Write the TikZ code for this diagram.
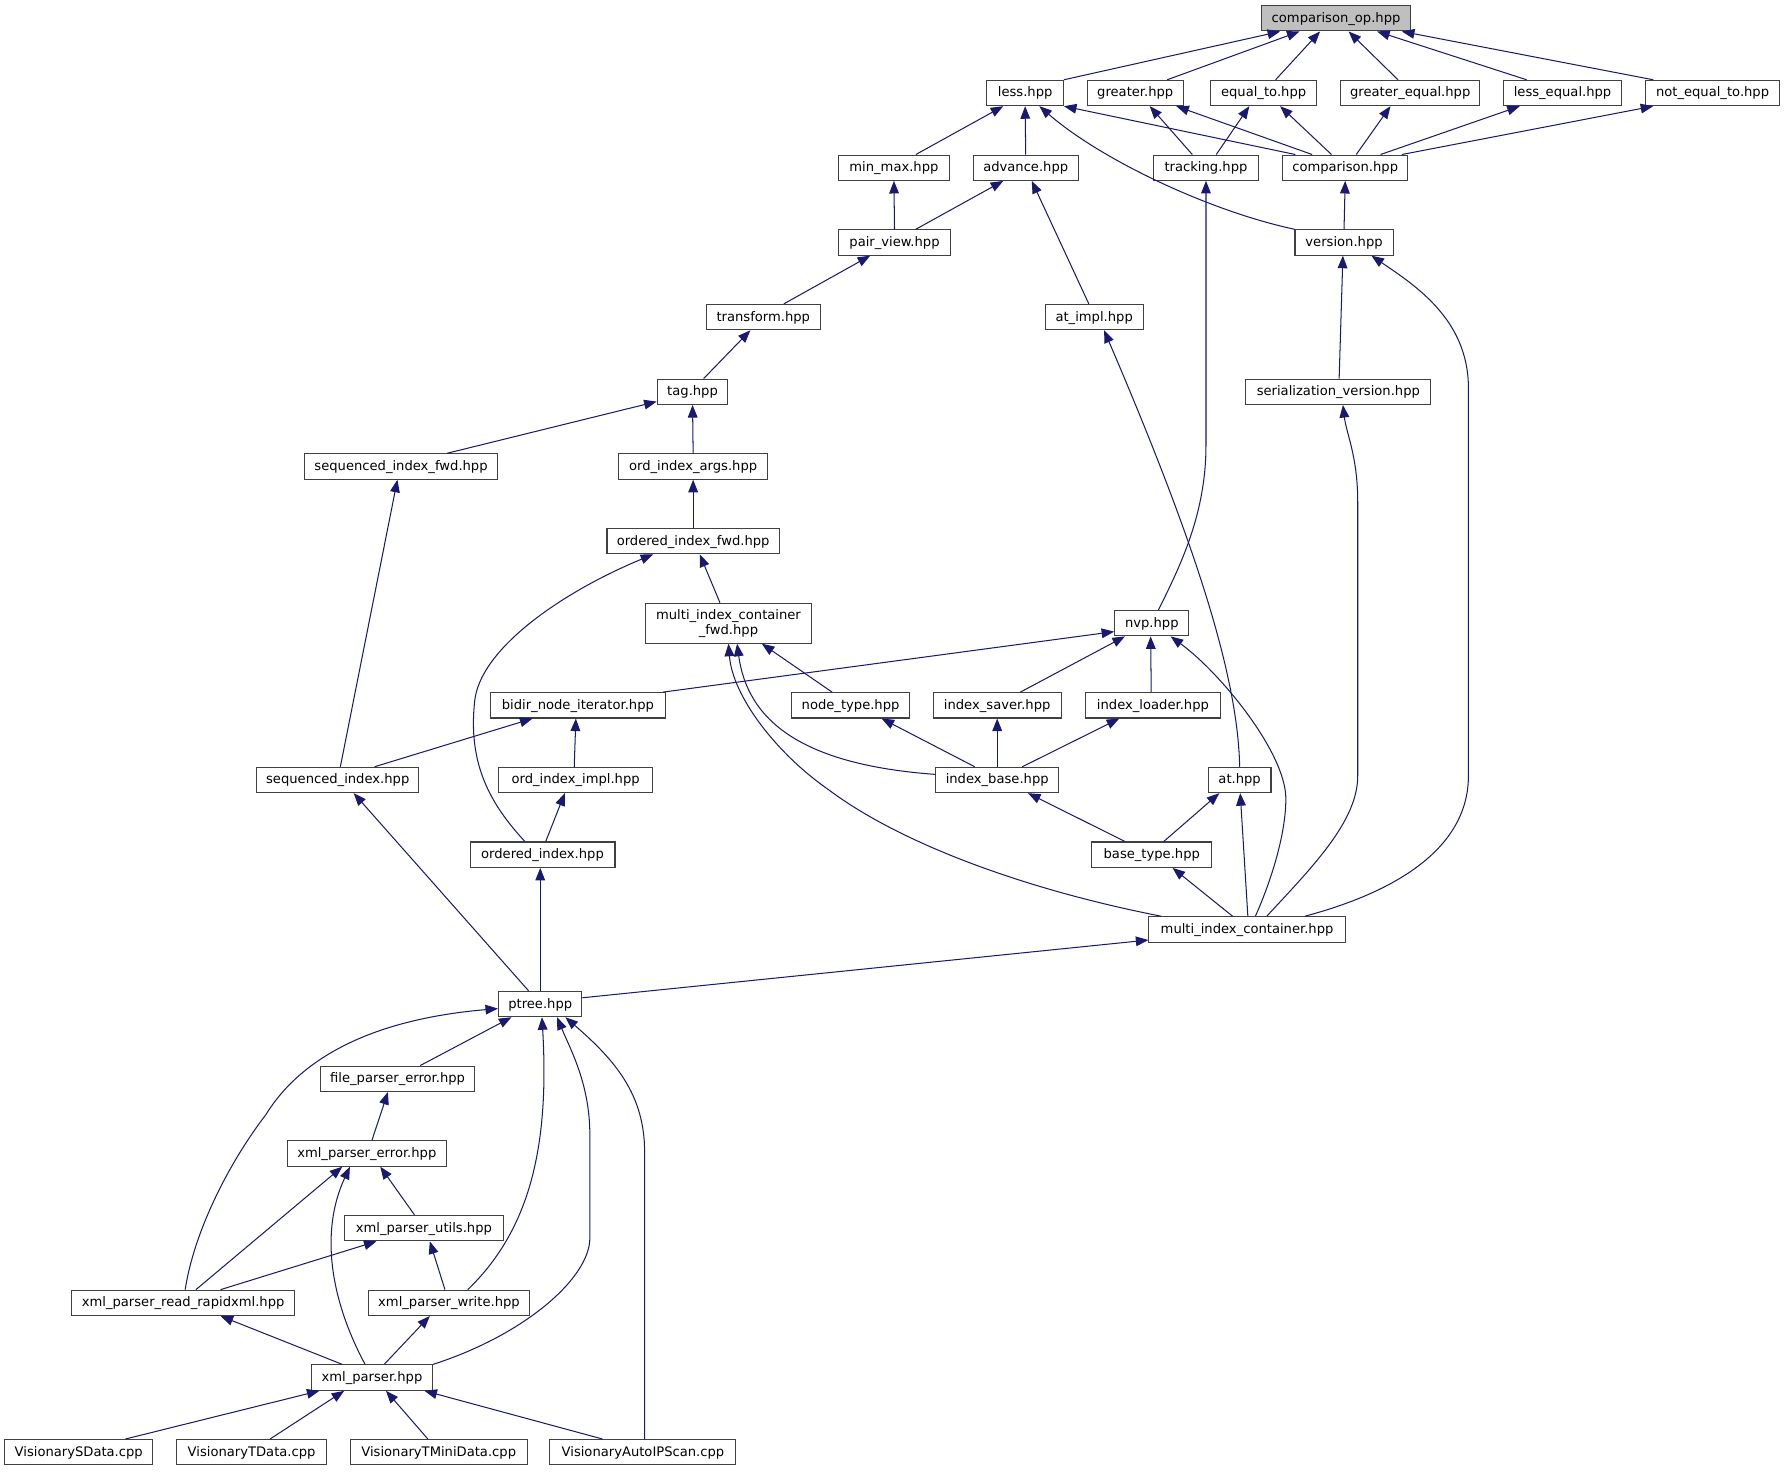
\documentclass[tikz,border=0pt]{standalone}
\usepackage{fontspec}
\setmainfont{DejaVu Sans}
\usetikzlibrary{arrows.meta}
\definecolor{navyc}{HTML}{191970}
\definecolor{boxc}{HTML}{404040}
\definecolor{grayfill}{HTML}{BFBFBF}
\newcommand\nodefont{\fontsize{11.5}{13.2}\selectfont}
\tikzset{
  box/.style={draw=boxc, line width=0.95pt, fill=white, inner sep=1pt, font=\nodefont, text=black, minimum height=22.2pt},
  b/.style={box, text height=9pt, text depth=2pt},
  dep/.style={draw=navyc, line width=0.9pt, -{Triangle[length=11pt,width=8.5pt]}},
}
\begin{document}
\begin{tikzpicture}[x=1pt,y=-1pt]
\useasboundingbox (0,0) rectangle (1568,1289.3);
% row 0
\node[b, minimum width=130pt, fill=grayfill] (cop) at (1171,16.0) {comparison\_op.hpp};
% row 1
\node[b, minimum width=67pt] (less) at (898.5,81.5) {less.hpp};
\node[b, minimum width=84pt] (greater) at (995,81.5) {greater.hpp};
\node[b, minimum width=93pt] (eqto) at (1107.5,81.5) {equal\_to.hpp};
\node[b, minimum width=122pt] (geq) at (1236,81.5) {greater\_equal.hpp};
\node[b, minimum width=103pt] (leq) at (1369.5,81.5) {less\_equal.hpp};
\node[b, minimum width=118pt] (neq) at (1501,81.5) {not\_equal\_to.hpp};
% row 2
\node[b, minimum width=97pt] (minmax) at (783.5,147.0) {min\_max.hpp};
\node[b, minimum width=92pt] (advance) at (899,147.0) {advance.hpp};
\node[b, minimum width=92pt] (tracking) at (1057,147.0) {tracking.hpp};
\node[b, minimum width=110pt] (comparison) at (1179,147.0) {comparison.hpp};
% row 3
\node[b, minimum width=98pt] (pairview) at (784,212.5) {pair\_view.hpp};
\node[b, minimum width=86pt] (version) at (1178,212.5) {version.hpp};
% row 4
\node[b, minimum width=100pt] (transform) at (669,277.9) {transform.hpp};
\node[b, minimum width=86pt] (atimpl) at (959,277.9) {at\_impl.hpp};
% row 5
\node[b, minimum width=62pt] (tag) at (607,343.4) {tag.hpp};
\node[b, minimum width=162pt] (serv) at (1173,343.4) {serialization\_version.hpp};
% row 6
\node[b, minimum width=169pt] (sif) at (351.5,408.9) {sequenced\_index\_fwd.hpp};
\node[b, minimum width=131pt] (oia) at (607.5,408.9) {ord\_index\_args.hpp};
% row 7
\node[b, minimum width=151pt] (oif) at (607.5,474.3) {ordered\_index\_fwd.hpp};
% row 8
\node[box, minimum width=145pt, minimum height=35pt, align=center] (micf) at (638.5,546.2) {multi\_index\_container\\\_fwd.hpp};
\node[b, minimum width=65pt] (nvp) at (1009.5,546.2) {nvp.hpp};
% row 9
\node[b, minimum width=153pt] (bidir) at (506.5,618.2) {bidir\_node\_iterator.hpp};
\node[b, minimum width=103pt] (ntype) at (745.5,618.2) {node\_type.hpp};
\node[b, minimum width=112pt] (isaver) at (874,618.2) {index\_saver.hpp};
\node[b, minimum width=119pt] (iloader) at (1010.5,618.2) {index\_loader.hpp};
% row 10
\node[b, minimum width=142pt] (si) at (296,683.6) {sequenced\_index.hpp};
\node[b, minimum width=135pt] (oii) at (504.5,683.6) {ord\_index\_impl.hpp};
\node[b, minimum width=108pt] (ibase) at (874,683.6) {index\_base.hpp};
\node[b, minimum width=55pt] (at) at (1086.5,683.6) {at.hpp};
% row 11
\node[b, minimum width=127pt] (oi) at (475.5,749.1) {ordered\_index.hpp};
\node[b, minimum width=105pt] (btype) at (1009.5,749.1) {base\_type.hpp};
% row 12
\node[b, minimum width=172pt] (mic) at (1093,814.6) {multi\_index\_container.hpp};
% row 13
\node[b, minimum width=73pt] (ptree) at (473.5,880.0) {ptree.hpp};
% row 14
\node[b, minimum width=135pt] (fpe) at (348.5,945.5) {file\_parser\_error.hpp};
% row 15
\node[b, minimum width=139pt] (xpe) at (321.5,1011.0) {xml\_parser\_error.hpp};
% row 16
\node[b, minimum width=139pt] (xpu) at (371.5,1076.4) {xml\_parser\_utils.hpp};
% row 17
\node[b, minimum width=195pt] (rr) at (160.5,1141.9) {xml\_parser\_read\_rapidxml.hpp};
\node[b, minimum width=141pt] (xpw) at (393.5,1141.9) {xml\_parser\_write.hpp};
% row 18
\node[b, minimum width=106pt] (xp) at (326,1207.4) {xml\_parser.hpp};
% row 19
\node[b, minimum width=130pt] (sd) at (69,1272.8) {VisionarySData.cpp};
\node[b, minimum width=131pt] (td) at (220.5,1272.8) {VisionaryTData.cpp};
\node[b, minimum width=155pt] (tmd) at (384.5,1272.8) {VisionaryTMiniData.cpp};
\node[b, minimum width=163pt] (aip) at (563.5,1272.8) {VisionaryAutoIPScan.cpp};

% edges into comparison_op
\draw[dep] (less.north east) -- ([xshift=-49pt]cop.south);
\draw[dep] ([xshift=28pt]greater.north) -- ([xshift=-32pt]cop.south);
\draw[dep] ([xshift=10.5pt]eqto.north) -- ([xshift=-14pt]cop.south);
\draw[dep] ([xshift=-10.7pt]geq.north) -- ([xshift=11pt]cop.south);
\draw[dep] ([xshift=-31.5pt]leq.north) -- ([xshift=36pt]cop.south);
\draw[dep] ([xshift=-52pt]neq.north) -- ([xshift=57.7pt]cop.south);
% into less
\draw[dep] ([xshift=19.2pt]minmax.north) -- ([xshift=-19.2pt]less.south);
\draw[dep] (advance.north) -- (less.south);
\draw[dep] ([xshift=-43.7pt]comparison.north) -- (less.south east);
\draw[dep] (version.north west) .. controls (1060,185) and (965,140) .. ([xshift=12.5pt]less.south);
% into greater / equal_to etc
\draw[dep] ([xshift=-12pt]tracking.north) -- ([xshift=12.7pt]greater.south);
\draw[dep] ([xshift=9pt]tracking.north) -- ([xshift=-12.5pt]eqto.south);
\draw[dep] ([xshift=-29pt]comparison.north) -- ([xshift=36pt]greater.south);
\draw[dep] ([xshift=-12pt]comparison.north) -- ([xshift=14.5pt]eqto.south);
\draw[dep] ([xshift=9.7pt]comparison.north) -- ([xshift=-17.3pt]geq.south);
\draw[dep] ([xshift=31pt]comparison.north) -- ([xshift=-37.5pt]leq.south);
\draw[dep] ([xshift=49.7pt]comparison.north) -- ([xshift=-52pt]neq.south);
\draw[dep] (version.north) -- (comparison.south);
% middle chain
\draw[dep] (pairview.north) -- (minmax.south);
\draw[dep] ([xshift=18.7pt]pairview.north) -- ([xshift=-19.7pt]advance.south);
\draw[dep] ([xshift=-4.7pt]atimpl.north) -- ([xshift=5.3pt]advance.south);
\draw[dep] ([xshift=18pt]transform.north) -- ([xshift=-21.3pt]pairview.south);
\draw[dep] ([xshift=9.7pt]tag.north) -- ([xshift=-11.3pt]transform.south);
\draw[dep] ([xshift=40.2pt]sif.north) -- ([yshift=3pt]tag.south west);
\draw[dep] (oia.north) -- (tag.south);
\draw[dep] (oif.north) -- (oia.south);
\draw[dep] ([xshift=-7.5pt]micf.north) -- ([xshift=5.8pt]oif.south);
\draw[dep] ([xshift=-15.5pt]oi.north) .. controls (430,705) and (410,670) .. (416,615) .. controls (420,570) and (490,520) .. ([xshift=-35pt]oif.south);
\draw[dep] ([xshift=2.3pt]si.north) -- ([xshift=-3.2pt]sif.south);
% nvp
\draw[dep] ([xshift=74.5pt]bidir.north) -- ([yshift=-7.4pt]nvp.west);
\draw[dep] ([xshift=20.3pt]isaver.north) -- ([xshift=-23.5pt]nvp.south);
\draw[dep] ([xshift=-1.5pt]iloader.north) -- ([xshift=-1pt]nvp.south);
\draw[dep] ([xshift=7.3pt]mic.north) .. controls (1115,770) and (1127,730) .. (1127,700) .. controls (1127,660) and (1070,590) .. ([xshift=16.5pt]nvp.south);
\draw[dep] ([xshift=5.8pt]nvp.north) .. controls (1035,495) and (1057,450) .. (1057,390) -- (tracking.south);
\draw[dep] (at.north) .. controls (1085,590) and (1045,470) .. ([xshift=8.7pt]atimpl.south);
% multi_index_container_fwd
\draw[dep] ([yshift=4.9pt]ibase.west) .. controls (700,670) and (655,630) .. ([xshift=7.5pt]micf.south);
\draw[dep] ([xshift=-75.3pt]mic.north) .. controls (900,780) and (790,740) .. (726,692) .. controls (680,660) and (642,610) .. (micf.south);
\draw[dep] ([xshift=-16.2pt]ntype.north) -- ([xshift=29.2pt]micf.south);
\draw[dep] ([xshift=-19.7pt]ibase.north) -- ([xshift=27.2pt]ntype.south);
\draw[dep] (ibase.north) -- (isaver.south);
\draw[dep] ([xshift=22pt]ibase.north) -- ([xshift=-29.5pt]iloader.south);
\draw[dep] ([xshift=-23.5pt]btype.north) -- ([xshift=27pt]ibase.south);
\draw[dep] ([xshift=10.5pt]btype.north) -- ([xshift=-17.8pt]at.south);
\draw[dep] ([xshift=0.7pt]mic.north) -- ([xshift=0.5pt]at.south);
\draw[dep] ([xshift=-12.7pt]mic.north) -- ([xshift=18.2pt]btype.south);
\draw[dep] ([xshift=50.7pt]mic.north) .. controls (1230,780) and (1287,740) .. (1287,680) -- (1287,340) .. controls (1287,280) and (1240,250) .. ([xshift=24pt]version.south);
\draw[dep] ([xshift=17.3pt]mic.north) .. controls (1150,760) and (1190,720) .. (1190,680) -- (1190,440) .. controls (1190,400) and (1180,380) .. ([xshift=4pt]serv.south);
\draw[dep] ([xshift=0.7pt]serv.north) -- ([xshift=-1pt]version.south);
% ptree
\draw[dep] ([yshift=5.5pt]ptree.east) -- ([yshift=-9.3pt]mic.west);
\draw[dep] (ptree.north) -- ([xshift=-2pt]oi.south);
\draw[dep] ([xshift=-10.2pt]ptree.north) -- ([xshift=14pt]si.south);
\draw[dep] ([xshift=32.3pt]si.north) -- ([xshift=-39.8pt]bidir.south);
\draw[dep] ([xshift=-1.2pt]oii.north) -- ([xshift=-1.8pt]bidir.south);
\draw[dep] ([xshift=2.8pt]oi.north) -- ([xshift=-9.5pt]oii.south);
\draw[dep] ([xshift=19.8pt]fpe.north) -- ([xshift=-25.2pt]ptree.south);
\draw[dep] ([xshift=1.8pt]rr.north) .. controls (170,1080) and (200,1020) .. (233,977) .. controls (265,925) and (330,893) .. ([yshift=-4pt]ptree.west);
\draw[dep] ([xshift=16.5pt]xpw.north) .. controls (462,1080) and (482,1010) .. ([xshift=1.5pt]ptree.south);
\draw[dep] (xp.north east) .. controls (460,1170) and (517,1120) .. (517,1085) -- (517,995) .. controls (517,950) and (500,920) .. ([xshift=14.8pt]ptree.south);
\draw[dep] ([xshift=1.5pt]aip.north) -- (565,1010) .. controls (565,960) and (540,930) .. ([xshift=22pt]ptree.south);
% xml parser block
\draw[dep] ([xshift=4.5pt]xpe.north) -- ([xshift=-8.5pt]fpe.south);
\draw[dep] ([xshift=11.2pt]rr.north) -- ([xshift=-21.5pt]xpe.south);
\draw[dep] ([xshift=-6pt]xp.north) .. controls (290,1140) and (280,1080) .. ([xshift=-14.8pt]xpe.south);
\draw[dep] ([xshift=-8.2pt]xpu.north) -- ([xshift=11.8pt]xpe.south);
\draw[dep] ([xshift=32.8pt]rr.north) -- ([xshift=-41.5pt]xpu.south);
\draw[dep] ([xshift=-3.5pt]xpw.north) -- ([xshift=5.2pt]xpu.south);
\draw[dep] ([xshift=-26pt]xp.north) -- ([xshift=32.8pt]rr.south);
\draw[dep] ([xshift=10.7pt]xp.north) -- ([xshift=-16.8pt]xpw.south);
\draw[dep] ([xshift=41pt]sd.north) -- ([xshift=-46pt]xp.south);
\draw[dep] ([xshift=16.2pt]td.north) -- ([xshift=-24.3pt]xp.south);
\draw[dep] ([xshift=-9.5pt]tmd.north) -- ([xshift=12.3pt]xp.south);
\draw[dep] ([xshift=-35.5pt]aip.north) -- ([xshift=46pt]xp.south);
\end{tikzpicture}
\end{document}
